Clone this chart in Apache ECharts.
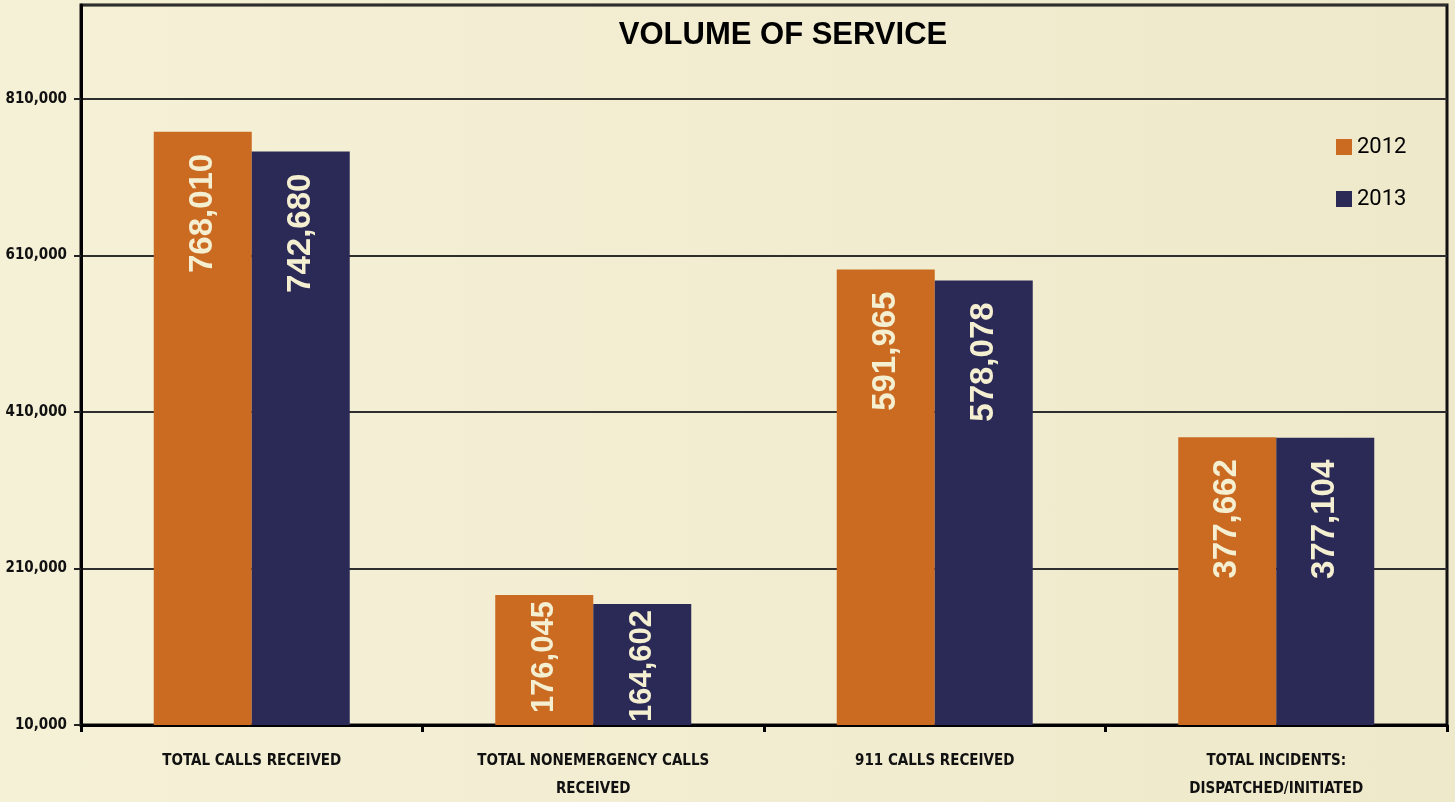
<!DOCTYPE html>
<html>
<head>
<meta charset="utf-8">
<script src="https://cdn.jsdelivr.net/npm/echarts@6/dist/echarts.min.js"></script>
<style>
  html, body { margin: 0; padding: 0; }
  #chart { width: 1455px; height: 802px; background: linear-gradient(90deg, #f5f1d7, #efe9cb); }
</style>
</head>
<body>
<div id="chart"></div>
<script>
const categories = ["TOTAL CALLS RECEIVED", "TOTAL NONEMERGENCY CALLS\nRECEIVED", "911 CALLS RECEIVED", "TOTAL INCIDENTS:\nDISPATCHED/INITIATED"];
const years = ["2012", "2013"];
const values2012 = [768010, 176045, 591965, 377662];
const values2013 = [742680, 164602, 578078, 377104];
const colors = ["#cb6a21", "#2b2a56"];

const narrow = '"DejaVu Sans Condensed", "Liberation Sans Narrow", sans-serif';

var myChart = echarts.init(document.getElementById('chart'));

function barSeries(name, data, color) {
    return {
        name: name,
        type: 'bar',
        // short bars get a slightly smaller label closer to the top so it fits
        data: data.map(v => ({
            value: v,
            label: v < 250000 ? { distance: 6, fontSize: 31 } : { distance: 22, fontSize: 33 }
        })),
        barWidth: 98,
        barGap: 0,
        itemStyle: { color: color },
        label: {
            show: true,
            position: 'insideTop',
            rotate: 90,
            align: 'right',
            verticalAlign: 'middle',
            color: '#f5efd2',
            fontFamily: '"Liberation Sans", Arial, sans-serif',
            fontWeight: 'bold',
            formatter: function(p) {
                return p.value.toLocaleString('en-US');
            }
        }
    };
}

var option = {
    title: {
        text: 'VOLUME OF SERVICE',
        left: 778,
        textAlign: 'center',
        top: 15,
        textStyle: {
            fontFamily: '"Liberation Sans", Arial, sans-serif',
            fontWeight: 'bold',
            fontSize: 31,
            color: '#000'
        }
    },
    legend: {
        orient: 'vertical',
        left: 1331,
        top: 131,
        itemWidth: 16,
        itemHeight: 16,
        itemGap: 30,
        icon: 'rect',
        textStyle: { fontFamily: 'Roboto, sans-serif', fontSize: 22, lineHeight: 20, color: '#000' },
        data: years
    },
    grid: {
        left: 81,
        right: 8,
        top: 5,
        bottom: 77,
        outerBoundsMode: 'none',
        containLabel: false,
        show: true,
        borderColor: '#111',
        borderWidth: 3,
        backgroundColor: 'transparent'
    },
    xAxis: {
        type: 'category',
        data: categories,
        axisLine: { lineStyle: { color: '#000', width: 3 } },
        axisTick: { show: true, length: 7, lineStyle: { color: '#000', width: 3 } },
        axisLabel: {
            interval: 0,
            margin: 22,
            fontFamily: narrow,
            fontWeight: 'bold',
            fontSize: 15,
            lineHeight: 28,
            color: '#111'
        }
    },
    yAxis: {
        type: 'value',
        min: 10000,
        max: 930000,
        interval: 200000,
        axisLine: { show: true, lineStyle: { color: '#000', width: 3 } },
        axisTick: { show: true, length: 7, lineStyle: { color: '#222', width: 2 } },
        splitLine: { lineStyle: { color: '#2e2e2e', width: 2 } },
        axisLabel: {
            showMaxLabel: false,
            margin: 14,
            fontFamily: narrow,
            fontWeight: 'bold',
            fontSize: 15,
            color: '#111',
            formatter: function(v) {
                return v.toLocaleString('en-US');
            }
        }
    },
    series: [
        barSeries(years[0], values2012, colors[0]),
        barSeries(years[1], values2013, colors[1])
    ]
};
myChart.setOption(option);
</script>
</body>
</html>
